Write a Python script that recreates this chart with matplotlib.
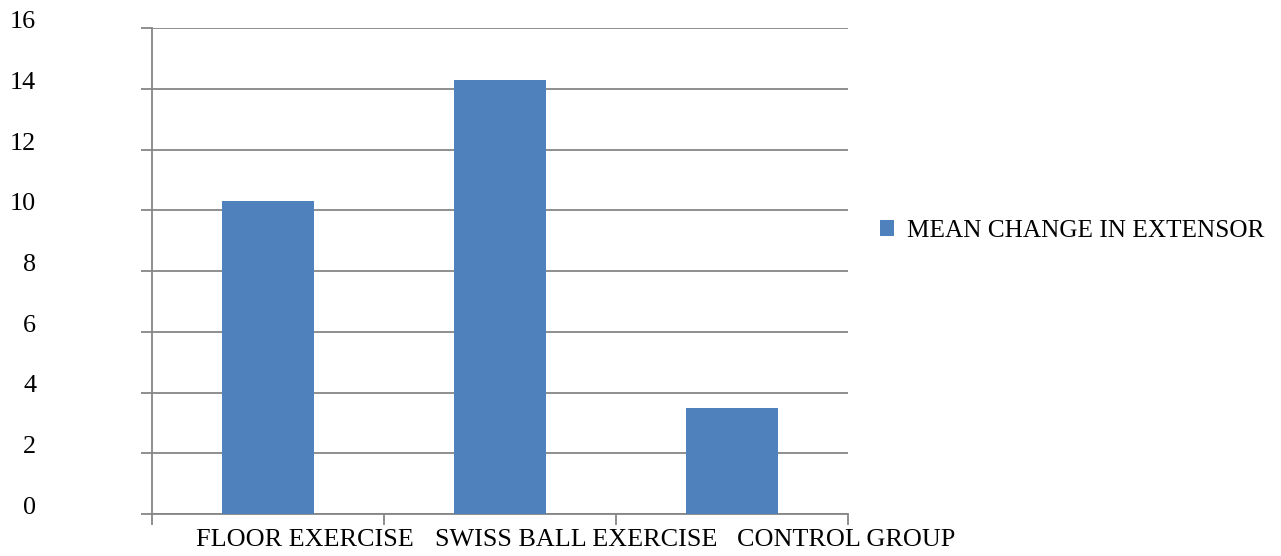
import matplotlib.pyplot as plt
import matplotlib.transforms as mtransforms
import numpy as np

plt.rcParams['font.family'] = ['Liberation Serif', 'DejaVu Serif']

grupos = ['FLOOR EXERCISE', 'SWISS BALL EXERCISE', 'CONTROL GROUP']
media_extensor = [10.3, 14.3, 3.5]
deslocamento_rotulo = [0.16, 0.33, 0.49]  # rótulos do eixo x ficam deslocados à direita no original
ticks_y = [0, 2, 4, 6, 8, 10, 12, 14, 16]

cinza = '#868686'
azul = '#4F81BD'
tam = 18.8

fig = plt.figure(figsize=(12.81, 5.56), dpi=100)
ax = fig.add_axes([152/1281, 42/556, 696/1281, 486/556])

x = np.arange(len(grupos))
ax.bar(x, media_extensor, width=0.4, color=azul, zorder=3, label='MEAN CHANGE IN EXTENSOR')

ax.set_xlim(-0.5, 2.5)
ax.set_ylim(0, 16)
ax.set_yticks(ticks_y)
ax.yaxis.grid(True, color=cinza, linewidth=1.3, zorder=0)
ax.tick_params(axis='y', length=8, width=1.3, color=cinza, labelleft=False)

# ticks de categoria nas bordas
ax.set_xticks([-0.5, 0.5, 1.5, 2.5])
ax.set_xticklabels([])
ax.tick_params(axis='x', length=8, width=1.3, color=cinza)

for lado in ['top', 'right']:
    ax.spines[lado].set_visible(False)
for lado in ['left', 'bottom']:
    ax.spines[lado].set_color(cinza)
    ax.spines[lado].set_linewidth(1.3)

# rótulos do eixo y bem à esquerda
trans_y = mtransforms.blended_transform_factory(fig.transFigure, ax.transData)
desloc = mtransforms.ScaledTranslation(0, 6/100, fig.dpi_scale_trans)
for v in ticks_y:
    ax.text(36/1281, v, str(v), transform=trans_y + desloc, ha='right', va='center', fontsize=tam)

# rótulos das categorias
trans_x = mtransforms.blended_transform_factory(ax.transData, fig.transFigure)
for i, nome in enumerate(grupos):
    ax.text(x[i] + deslocamento_rotulo[i], 16/556, nome, transform=trans_x, ha='center', va='center', fontsize=tam)

fig.legend(loc='center left', bbox_to_anchor=(867/1281, 1 - 231/556), frameon=False,
           fontsize=18.2, handlelength=0.55, handleheight=0.55, handletextpad=0.55, borderpad=0)

plt.savefig('out.png', dpi=100)
